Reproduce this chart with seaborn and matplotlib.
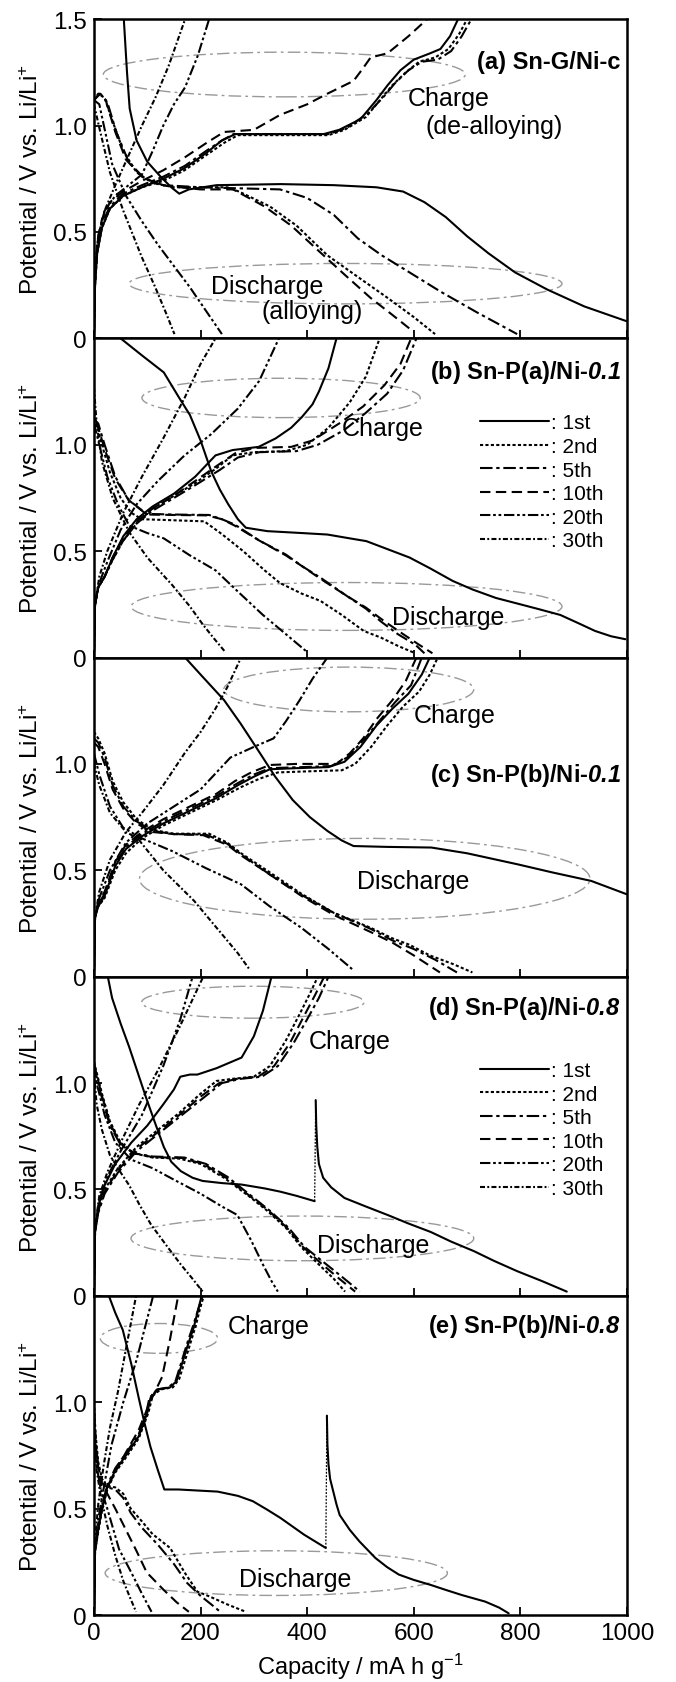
import pandas as pd
import matplotlib
matplotlib.use("Agg")
import matplotlib.pyplot as plt
from matplotlib.patches import Ellipse
from matplotlib.lines import Line2D
import seaborn as sns

cycles = ["1st", "2nd", "5th", "10th", "20th", "30th"]

# ---- (a) Sn-G/Ni-c ----
a_dis_1st = [(56,1.5),(62,1.25),(67,1.08),(80,0.93),(100,0.83),(125,0.76),(145,0.71),(160,0.68),(178,0.70),(230,0.72),(350,0.725),(450,0.72),(530,0.71),(580,0.69),(620,0.64),(660,0.57),(700,0.48),(740,0.40),(790,0.31),(850,0.23),(920,0.15),(1000,0.08)]
a_dis_2nd = [(0,1.12),(8,1.15),(20,1.13),(35,1.02),(55,0.88),(80,0.78),(110,0.73),(150,0.71),(250,0.71),(272,0.69),(330,0.62),(380,0.53),(438,0.39),(500,0.28),(551,0.19),(600,0.10),(640,0.02)]
a_dis_5th = [(0,1.12),(12,1.15),(25,1.11),(42,0.97),(65,0.83),(95,0.75),(130,0.72),(200,0.71),(349,0.70),(400,0.66),(450,0.58),(495,0.47),(540,0.39),(592,0.31),(650,0.22),(720,0.12),(794,0.02)]
a_dis_10th = [(0,1.12),(10,1.15),(22,1.12),(40,0.97),(60,0.84),(90,0.76),(125,0.72),(200,0.70),(261,0.70),(320,0.62),(370,0.53),(422,0.41),(470,0.30),(519,0.19),(560,0.11),(600,0.03)]
a_dis_20th = [(0,1.12),(10,1.10),(34,0.82),(60,0.67),(90,0.55),(120,0.44),(147,0.35),(180,0.24),(210,0.13),(240,0.02)]
a_dis_30th = [(0,1.10),(10,0.99),(30,0.78),(55,0.60),(90,0.38),(115,0.24),(135,0.12),(151,0.02)]
a_chg_1st = [(0,0.02),(2,0.25),(6,0.40),(15,0.52),(30,0.61),(55,0.67),(90,0.71),(130,0.75),(170,0.80),(210,0.87),(240,0.93),(265,0.96),(330,0.96),(431,0.96),(460,0.98),(500,1.03),(530,1.12),(551,1.19),(575,1.26),(600,1.31),(631,1.34),(650,1.36),(668,1.42),(683,1.5)]
a_chg_2nd = [(0,0.02),(2,0.25),(6,0.40),(15,0.52),(30,0.61),(55,0.67),(90,0.71),(130,0.74),(170,0.79),(210,0.86),(245,0.92),(270,0.955),(330,0.955),(440,0.955),(470,0.98),(510,1.04),(540,1.13),(560,1.19),(585,1.25),(610,1.30),(640,1.32),(665,1.36),(685,1.43),(700,1.5)]
a_chg_5th = [(0,0.02),(2,0.25),(6,0.42),(15,0.54),(30,0.62),(55,0.68),(90,0.72),(130,0.76),(170,0.81),(210,0.88),(240,0.93),(262,0.96),(330,0.96),(440,0.96),(475,0.99),(515,1.06),(545,1.14),(565,1.20),(590,1.26),(615,1.30),(645,1.31),(670,1.35),(690,1.42),(708,1.5)]
a_chg_10th = [(0,0.02),(2,0.28),(6,0.45),(15,0.56),(30,0.64),(55,0.69),(90,0.74),(130,0.79),(170,0.85),(212,0.92),(244,0.97),(300,0.98),(349,1.05),(400,1.10),(438,1.15),(487,1.21),(505,1.27),(519,1.32),(551,1.34),(590,1.42),(625,1.5)]
a_chg_20th = [(0,0.02),(2,0.30),(8,0.48),(20,0.60),(40,0.67),(65,0.72),(90,0.77),(110,0.88),(130,1.0),(150,1.10),(171,1.18),(195,1.33),(216,1.5)]
a_chg_30th = [(0,0.02),(2,0.30),(8,0.48),(20,0.60),(40,0.72),(65,0.86),(90,1.0),(115,1.13),(140,1.28),(171,1.5)]

# ---- (b) Sn-P(a)/Ni-0.1 ----
b_dis_1st = [(50,1.5),(90,1.42),(131,1.34),(160,1.22),(180,1.14),(200,1.02),(220,0.875),(236,0.79),(252,0.72),(270,0.65),(285,0.61),(325,0.594),(390,0.585),(438,0.578),(480,0.56),(511,0.547),(550,0.51),(592,0.47),(630,0.42),(673,0.36),(710,0.32),(754,0.28),(800,0.25),(835,0.227),(875,0.20),(910,0.16),(940,0.125),(970,0.10),(997,0.086)]
b_dis_2nd = [(0,1.15),(5,1.10),(15,1.0),(30,0.87),(50,0.75),(70,0.68),(90,0.65),(150,0.645),(207,0.64),(240,0.58),(280,0.50),(320,0.41),(349,0.35),(390,0.30),(425,0.266),(465,0.2),(506,0.125),(538,0.094),(570,0.055),(600,0.023)]
b_dis_5th = [(0,1.12),(8,1.10),(20,1.0),(40,0.85),(65,0.74),(99,0.675),(150,0.672),(216,0.67),(240,0.65),(264,0.625),(310,0.55),(360,0.484),(390,0.43),(425,0.375),(474,0.29),(510,0.23),(538,0.17),(570,0.11),(603,0.06),(620,0.02)]
b_dis_10th = [(0,1.10),(8,1.08),(20,0.98),(40,0.84),(65,0.74),(99,0.672),(150,0.67),(212,0.668),(240,0.65),(264,0.62),(310,0.55),(360,0.48),(390,0.43),(425,0.37),(474,0.29),(510,0.235),(545,0.17),(580,0.11),(610,0.06),(635,0.02)]
b_dis_20th = [(0,1.10),(10,1.0),(25,0.85),(45,0.72),(66,0.62),(100,0.585),(131,0.56),(180,0.48),(228,0.41),(270,0.31),(317,0.20),(360,0.11),(398,0.03)]
b_dis_30th = [(0,1.27),(5,1.10),(15,0.92),(35,0.75),(66,0.59),(100,0.47),(147,0.34),(180,0.24),(204,0.156),(225,0.09),(245,0.03)]
b_chg_1st = [(0,0.02),(2,0.25),(8,0.33),(20,0.38),(35,0.47),(55,0.57),(80,0.65),(110,0.71),(150,0.77),(190,0.85),(228,0.95),(260,0.975),(309,0.99),(341,1.03),(370,1.08),(390,1.13),(410,1.19),(422,1.25),(440,1.36),(455,1.5)]
b_chg_2nd = [(0,0.02),(2,0.25),(8,0.33),(20,0.38),(35,0.46),(55,0.55),(80,0.63),(110,0.70),(150,0.76),(190,0.82),(230,0.89),(260,0.95),(300,0.965),(360,0.97),(400,1.0),(440,1.08),(480,1.2),(510,1.32),(536,1.5)]
b_chg_5th = [(0,0.02),(2,0.25),(8,0.33),(20,0.38),(35,0.46),(55,0.55),(80,0.63),(110,0.69),(150,0.75),(190,0.81),(235,0.88),(270,0.94),(310,0.965),(380,0.97),(420,1.0),(470,1.07),(510,1.15),(550,1.24),(580,1.35),(605,1.5)]
b_chg_10th = [(0,0.02),(2,0.25),(8,0.33),(20,0.38),(35,0.47),(55,0.56),(80,0.64),(110,0.70),(150,0.76),(190,0.83),(230,0.90),(265,0.96),(300,0.985),(370,0.99),(410,1.02),(460,1.10),(505,1.18),(545,1.28),(575,1.38),(595,1.5)]
b_chg_20th = [(0,0.02),(2,0.25),(10,0.35),(25,0.45),(50,0.60),(80,0.72),(120,0.83),(170,0.95),(220,1.05),(270,1.17),(310,1.30),(347,1.5)]
b_chg_30th = [(0,0.02),(2,0.25),(10,0.38),(25,0.50),(55,0.68),(90,0.85),(130,1.03),(170,1.22),(200,1.38),(228,1.5)]

# ---- (c) Sn-P(b)/Ni-0.1 ----
c_dis_1st = [(171,1.5),(200,1.42),(244,1.30),(275,1.19),(309,1.06),(340,0.94),(373,0.83),(405,0.75),(438,0.685),(465,0.64),(487,0.614),(550,0.61),(633,0.607),(700,0.58),(795,0.528),(860,0.49),(933,0.45),(1000,0.387)]
c_dis_2nd = [(0,1.15),(8,1.12),(20,1.05),(35,0.92),(55,0.82),(80,0.74),(110,0.69),(150,0.672),(216,0.672),(250,0.63),(276,0.58),(330,0.49),(389,0.39),(450,0.30),(519,0.23),(560,0.18),(592,0.15),(630,0.10),(673,0.06),(710,0.02)]
c_dis_5th = [(0,1.12),(8,1.10),(20,1.03),(35,0.90),(55,0.80),(80,0.73),(110,0.685),(150,0.67),(210,0.668),(250,0.625),(276,0.575),(330,0.48),(389,0.385),(450,0.30),(519,0.225),(560,0.17),(600,0.13),(640,0.08),(681,0.02)]
c_dis_10th = [(0,1.10),(8,1.08),(20,1.0),(35,0.88),(55,0.79),(80,0.72),(110,0.68),(150,0.67),(205,0.665),(250,0.62),(276,0.57),(330,0.48),(389,0.38),(450,0.29),(519,0.21),(560,0.16),(600,0.10),(649,0.02)]
c_dis_20th = [(0,1.05),(10,0.95),(30,0.80),(55,0.70),(90,0.65),(147,0.59),(210,0.51),(276,0.434),(330,0.33),(389,0.23),(440,0.13),(487,0.03)]
c_dis_30th = [(0,1.0),(10,0.90),(30,0.77),(60,0.68),(82,0.65),(130,0.50),(188,0.356),(240,0.20),(270,0.11),(293,0.03)]
c_chg_1st = [(0,0.02),(2,0.28),(8,0.33),(20,0.38),(40,0.52),(60,0.60),(90,0.66),(130,0.72),(180,0.78),(230,0.84),(270,0.90),(300,0.94),(330,0.975),(380,0.98),(440,0.985),(470,1.01),(500,1.08),(530,1.18),(560,1.26),(590,1.33),(615,1.42),(630,1.5)]
c_chg_2nd = [(0,0.02),(2,0.28),(8,0.33),(20,0.37),(40,0.50),(60,0.58),(90,0.65),(130,0.71),(180,0.77),(230,0.83),(275,0.89),(310,0.93),(345,0.96),(400,0.965),(465,0.97),(490,1.0),(520,1.08),(550,1.18),(580,1.27),(610,1.34),(630,1.42),(645,1.5)]
c_chg_5th = [(0,0.02),(2,0.28),(8,0.34),(20,0.39),(40,0.53),(60,0.61),(90,0.67),(130,0.73),(180,0.79),(230,0.85),(270,0.91),(300,0.95),(330,0.98),(390,0.985),(445,0.99),(475,1.03),(505,1.11),(535,1.2),(565,1.29),(595,1.37),(615,1.5)]
c_chg_10th = [(0,0.02),(2,0.28),(8,0.35),(20,0.40),(40,0.54),(60,0.62),(90,0.68),(130,0.74),(180,0.80),(230,0.86),(265,0.92),(295,0.96),(330,0.995),(380,1.0),(455,1.0),(480,1.05),(505,1.12),(530,1.21),(560,1.3),(585,1.39),(605,1.5)]
c_chg_20th = [(0,0.02),(2,0.28),(10,0.37),(30,0.50),(60,0.63),(100,0.72),(150,0.80),(200,0.88),(256,1.03),(300,1.08),(337,1.12),(360,1.20),(386,1.30),(410,1.40),(438,1.5)]
c_chg_30th = [(0,0.02),(2,0.28),(10,0.40),(30,0.55),(60,0.68),(90,0.77),(130,0.90),(170,1.05),(200,1.15),(228,1.26),(250,1.36),(276,1.5)]

# ---- (d) Sn-P(a)/Ni-0.8 ----
d_dis_1st = [(26,1.5),(34,1.40),(50,1.28),(66,1.17),(82,1.05),(98,0.93),(115,0.81),(131,0.70),(145,0.63),(163,0.586),(185,0.555),(204,0.54),(240,0.53),(277,0.523),(320,0.505),(349,0.49),(380,0.47),(414,0.445)]
d_dis_1st_rest = [(416,0.92),(417,0.80),(419,0.70),(422,0.62),(430,0.555),(445,0.51),(470,0.46),(510,0.42),(551,0.38),(590,0.34),(632,0.30),(670,0.255),(713,0.21),(750,0.165),(794,0.116),(840,0.07),(887,0.02)]
d_jump = [(414,0.445),(416,0.92)]
d_dis_2nd = [(0,1.10),(5,1.05),(15,0.95),(30,0.82),(50,0.72),(75,0.67),(110,0.65),(160,0.645),(200,0.62),(244,0.555),(290,0.47),(325,0.40),(360,0.32),(390,0.226),(422,0.147),(450,0.08),(471,0.02)]
d_dis_5th = [(0,1.08),(5,1.03),(15,0.93),(30,0.80),(50,0.71),(75,0.67),(110,0.655),(170,0.65),(210,0.62),(250,0.56),(295,0.47),(330,0.40),(365,0.32),(395,0.23),(430,0.16),(465,0.09),(499,0.02)]
d_dis_10th = [(0,1.09),(5,1.04),(15,0.94),(30,0.81),(50,0.715),(75,0.67),(110,0.652),(165,0.648),(205,0.62),(248,0.555),(292,0.47),(328,0.40),(362,0.32),(392,0.23),(425,0.155),(458,0.085),(490,0.02)]
d_dis_20th = [(0,1.10),(5,1.0),(20,0.85),(40,0.72),(70,0.64),(110,0.60),(147,0.55),(200,0.48),(240,0.42),(269,0.38),(295,0.26),(317,0.147),(333,0.07),(345,0.02)]
d_dis_30th = [(0,1.05),(5,0.90),(15,0.78),(30,0.66),(50,0.58),(66,0.52),(85,0.43),(107,0.335),(135,0.24),(163,0.147),(185,0.08),(204,0.02)]
d_chg_1st = [(0,0.02),(2,0.30),(8,0.42),(20,0.52),(40,0.62),(70,0.72),(100,0.80),(130,0.90),(150,0.97),(162,1.03),(180,1.04),(194,1.04),(230,1.07),(277,1.12),(300,1.22),(317,1.34),(333,1.5)]
d_chg_2nd = [(0,0.02),(2,0.30),(8,0.40),(20,0.50),(45,0.60),(80,0.70),(120,0.78),(160,0.86),(200,0.95),(230,1.01),(260,1.02),(300,1.03),(330,1.08),(360,1.20),(385,1.32),(405,1.42),(420,1.5)]
d_chg_5th = [(0,0.02),(2,0.30),(8,0.39),(20,0.48),(45,0.58),(80,0.68),(120,0.76),(160,0.84),(205,0.93),(240,1.0),(275,1.02),(315,1.03),(345,1.08),(375,1.19),(400,1.30),(422,1.40),(440,1.5)]
d_chg_10th = [(0,0.02),(2,0.30),(8,0.40),(20,0.49),(45,0.59),(80,0.69),(120,0.77),(160,0.85),(202,0.94),(235,1.0),(268,1.02),(308,1.03),(338,1.08),(368,1.19),(393,1.31),(414,1.41),(432,1.5)]
d_chg_20th = [(0,0.02),(2,0.30),(10,0.45),(25,0.56),(50,0.68),(90,0.85),(130,1.08),(162,1.30),(185,1.5)]
d_chg_30th = [(0,0.02),(2,0.32),(10,0.47),(25,0.58),(50,0.72),(85,0.90),(120,1.06),(160,1.26),(205,1.5)]

# ---- (e) Sn-P(b)/Ni-0.8 ----
e_dis_1st = [(28,1.5),(40,1.42),(54,1.34),(70,1.18),(84,1.02),(95,0.90),(106,0.79),(120,0.68),(132,0.59),(158,0.59),(232,0.58),(270,0.56),(298,0.535),(325,0.495),(350,0.456),(394,0.378),(435,0.315)]
e_dis_1st_rest = [(437,0.937),(438,0.80),(440,0.708),(443,0.64),(447,0.60),(455,0.52),(461,0.47),(480,0.40),(498,0.346),(528,0.268),(550,0.225),(572,0.19),(600,0.165),(631,0.142),(660,0.118),(690,0.094),(734,0.063),(760,0.035),(778,0.008)]
e_jump = [(435,0.315),(437,0.937)]
e_dis_2nd = [(0,1.0),(3,0.85),(8,0.72),(15,0.64),(25,0.605),(40,0.60),(55,0.57),(69,0.50),(90,0.44),(110,0.38),(143,0.315),(170,0.20),(194,0.11),(217,0.087),(250,0.05),(285,0.015)]
e_dis_5th = [(0,0.98),(3,0.82),(8,0.70),(15,0.62),(25,0.60),(40,0.59),(55,0.55),(69,0.48),(90,0.41),(120,0.33),(150,0.24),(175,0.15),(200,0.09),(220,0.05),(237,0.015)]
e_dis_10th = [(0,0.95),(5,0.75),(12,0.62),(25,0.57),(40,0.50),(60,0.40),(80,0.30),(99,0.20),(130,0.12),(155,0.06),(178,0.015)]
e_dis_20th = [(0,0.90),(5,0.70),(12,0.60),(25,0.50),(47,0.31),(70,0.20),(90,0.10),(108,0.015)]
e_dis_30th = [(0,0.85),(5,0.68),(12,0.57),(25,0.42),(40,0.28),(55,0.16),(68,0.08),(79,0.015)]
e_chg_1st = [(0,0.02),(2,0.30),(8,0.40),(15,0.50),(25,0.60),(40,0.68),(60,0.75),(84,0.84),(100,0.95),(106,1.02),(120,1.06),(143,1.07),(155,1.10),(165,1.18),(175,1.26),(187,1.35),(195,1.43),(202,1.5)]
e_chg_2nd = [(0,0.02),(2,0.30),(8,0.39),(15,0.49),(25,0.59),(40,0.67),(60,0.74),(84,0.83),(102,0.95),(110,1.03),(125,1.06),(148,1.07),(160,1.11),(170,1.19),(180,1.27),(191,1.36),(199,1.44),(206,1.5)]
e_chg_5th = [(0,0.02),(2,0.30),(8,0.41),(15,0.51),(25,0.61),(40,0.69),(60,0.76),(84,0.85),(98,0.95),(104,1.02),(118,1.06),(140,1.07),(153,1.10),(163,1.18),(174,1.27),(186,1.36),(196,1.44),(204,1.5)]
e_chg_10th = [(0,0.02),(2,0.30),(10,0.45),(25,0.60),(50,0.72),(84,0.87),(105,1.0),(128,1.12),(143,1.30),(158,1.5)]
e_chg_20th = [(0,0.02),(2,0.30),(8,0.45),(20,0.62),(33,0.80),(55,1.0),(80,1.20),(111,1.5)]
e_chg_30th = [(0,0.02),(2,0.35),(8,0.52),(18,0.70),(30,0.88),(45,1.05),(60,1.25),(79,1.5)]

panel_titles = ["(a) Sn-G/Ni-c",
                r"(b) Sn-P(a)/Ni-$\mathbfit{0.1}$",
                r"(c) Sn-P(b)/Ni-$\mathbfit{0.1}$",
                r"(d) Sn-P(a)/Ni-$\mathbfit{0.8}$",
                r"(e) Sn-P(b)/Ni-$\mathbfit{0.8}$"]
title_y = [1.30, 1.345, 0.95, 1.355, 1.36]

# grey guide ellipses: (x centre, y centre, width, height)
charge_rings = [(357, 1.24, 679, 0.21), (351, 1.22, 522, 0.185), (478, 1.35, 469, 0.21),
                (298, 1.38, 417, 0.15), (122, 1.30, 220, 0.14)]
discharge_rings = [(472, 0.257, 812, 0.19), (474, 0.24, 808, 0.225), (508, 0.46, 845, 0.38),
                   (391, 0.27, 643, 0.21), (342, 0.197, 642, 0.21)]
# labels: (text, x, y)
notes = [
    [("Charge", 666, 1.13), ("(de-alloying)", 750, 1.00), ("Discharge", 325, 0.244), ("(alloying)", 410, 0.13)],
    [("Charge", 541, 1.08), ("Discharge", 665, 0.19)],
    [("Charge", 677, 1.23), ("Discharge", 598, 0.45)],
    [("Charge", 479, 1.20), ("Discharge", 523, 0.24)],
    [("Charge", 327, 1.36), ("Discharge", 377, 0.17)],
]

panels = [
    ([a_dis_1st, a_dis_2nd, a_dis_5th, a_dis_10th, a_dis_20th, a_dis_30th],
     [a_chg_1st, a_chg_2nd, a_chg_5th, a_chg_10th, a_chg_20th, a_chg_30th], None, None),
    ([b_dis_1st, b_dis_2nd, b_dis_5th, b_dis_10th, b_dis_20th, b_dis_30th],
     [b_chg_1st, b_chg_2nd, b_chg_5th, b_chg_10th, b_chg_20th, b_chg_30th], None, None),
    ([c_dis_1st, c_dis_2nd, c_dis_5th, c_dis_10th, c_dis_20th, c_dis_30th],
     [c_chg_1st, c_chg_2nd, c_chg_5th, c_chg_10th, c_chg_20th, c_chg_30th], None, None),
    ([d_dis_1st, d_dis_2nd, d_dis_5th, d_dis_10th, d_dis_20th, d_dis_30th],
     [d_chg_1st, d_chg_2nd, d_chg_5th, d_chg_10th, d_chg_20th, d_chg_30th], d_dis_1st_rest, d_jump),
    ([e_dis_1st, e_dis_2nd, e_dis_5th, e_dis_10th, e_dis_20th, e_dis_30th],
     [e_chg_1st, e_chg_2nd, e_chg_5th, e_chg_10th, e_chg_20th, e_chg_30th], e_dis_1st_rest, e_jump),
]

dash_map = {"1st": "", "2nd": (1.5, 1.1), "5th": (6, 1.8, 1.6, 1.8), "10th": (5, 2.6),
            "20th": (5, 1.3, 1.3, 1.3, 1.3, 1.3), "30th": (2.4, 1.1, 0.9, 1.1)}

sns.set_style("ticks", {"axes.edgecolor": "black", "text.color": "black",
                        "axes.labelcolor": "black", "xtick.color": "black",
                        "ytick.color": "black"})
plt.rcParams["font.family"] = ["Liberation Sans", "DejaVu Sans"]
plt.rcParams["mathtext.fontset"] = "custom"
plt.rcParams["mathtext.rm"] = "Liberation Sans"
plt.rcParams["mathtext.it"] = "Liberation Sans:italic"
plt.rcParams["mathtext.bf"] = "Liberation Sans:bold"
plt.rcParams["mathtext.bfit"] = "Liberation Sans:italic:bold"

fig, axes = plt.subplots(5, 1, figsize=(6.76, 16.83), dpi=100, sharex=True)
fig.subplots_adjust(left=0.139, right=0.9275, top=0.988, bottom=0.0398, hspace=0)

lw = 1.5
for i, ax in enumerate(axes):
    dis, chg, rest, jump = panels[i]
    rows = []
    for k, cyc in enumerate(cycles):
        for pts, name in [(dis[k], "dis"), (chg[k], "chg")]:
            for x, y in pts:
                rows.append((x, y, cyc, f"{cyc}-{name}"))
    if rest is not None:
        for x, y in rest:
            rows.append((x, y, "1st", "1st-dis-b"))
    df = pd.DataFrame(rows, columns=["cap", "volt", "cycle", "curve"])
    sns.lineplot(data=df, x="cap", y="volt", style="cycle", units="curve", estimator=None,
                 sort=False, dashes=dash_map, style_order=cycles, color="black",
                 linewidth=lw, legend=False, ax=ax)
    if jump is not None:
        jx, jy = zip(*jump)
        sns.lineplot(x=list(jx), y=list(jy), sort=False, estimator=None, color="black",
                     linewidth=0.9, linestyle=(0, (1.5, 1.2)), ax=ax)

    for cx, cy, w, h in [charge_rings[i], discharge_rings[i]]:
        ax.add_patch(Ellipse((cx, cy), w, h, fill=False, edgecolor="0.6",
                             linewidth=1.0, linestyle=(0, (9, 3, 2, 3))))
    for txt, x, y in notes[i]:
        ax.text(x, y, txt, ha="center", va="center", fontsize=18)
    ax.text(988, title_y[i], panel_titles[i], ha="right", va="center",
            fontsize=17, fontweight="bold")

    ax.set_xlim(0, 1000)
    ax.set_ylim(0, 1.5)
    ax.set_xticks([0, 200, 400, 600, 800, 1000])
    if i == 0:
        ax.set_yticks([0, 0.5, 1.0, 1.5])
        ax.set_yticklabels(["0", "0.5", "1.0", "1.5"])
    else:
        ax.set_yticks([0, 0.5, 1.0])
        ax.set_yticklabels(["0", "0.5", "1.0"])
    ax.tick_params(direction="in", length=6, width=1.3, labelsize=17.5, pad=5)
    for sp in ax.spines.values():
        sp.set_linewidth(1.8)
    ax.set_xlabel("")
    ax.set_ylabel("Potential / V vs. Li/Li$^{+}$", fontsize=17.5)
    ax.yaxis.set_label_coords(-0.096, 0.5)

    if i in (1, 3):
        handles = [Line2D([], [], color="black", linewidth=lw,
                          linestyle="-" if dash_map[c] == "" else (0, dash_map[c]))
                   for c in cycles]
        top = 0.765 if i == 1 else 0.736
        ax.legend(handles, [": " + c for c in cycles], loc="upper left",
                  bbox_to_anchor=(0.724, top), frameon=False, fontsize=15,
                  handlelength=3.3, handletextpad=0.1, labelspacing=0.22,
                  borderpad=0, borderaxespad=0)

axes[-1].set_xlabel("Capacity / mA h g$^{-1}$", fontsize=17, labelpad=5)

fig.savefig("out.png", dpi=100)
